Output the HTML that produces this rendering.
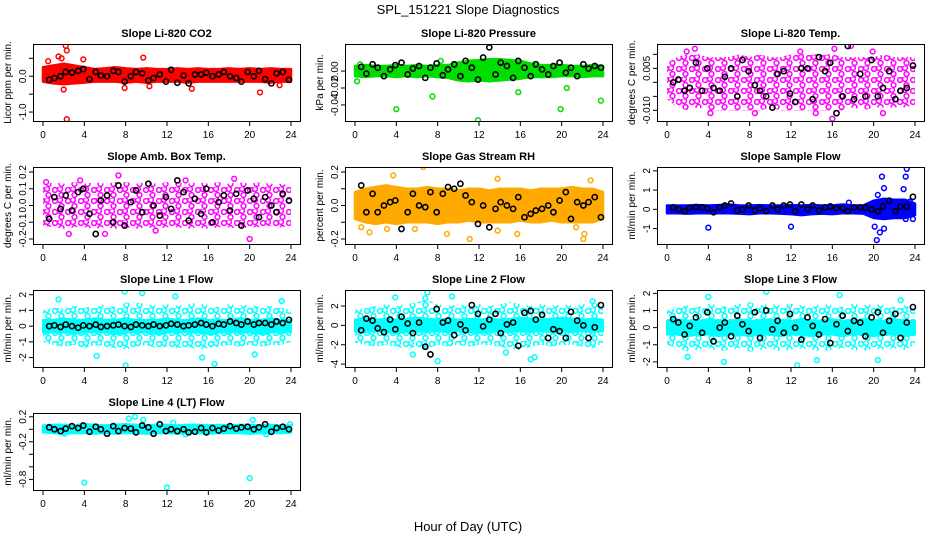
<!DOCTYPE html>
<html><head><meta charset="utf-8">
<style>
html,body{margin:0;padding:0;background:#fff;}
svg{display:block;font-family:"Liberation Sans",Arial,sans-serif;}
</style></head>
<body>
<svg id="chart" width="936" height="540" viewBox="0 0 936 540" xmlns="http://www.w3.org/2000/svg">
<text x="468" y="14" font-size="13" text-anchor="middle">SPL_151221  Slope Diagnostics</text>
<text x="468" y="531" font-size="13" text-anchor="middle">Hour of Day (UTC)</text>
<defs id="defs"></defs>
</svg>
<script>
const bandHours = [0,1,2,3,4,5,6,7,8,9,10,11,12,13,14,15,16,17,18,19,20,21,22,23,24];
const blackHours = [0.6,1.1,1.7,2.2,2.8,3.4,3.9,4.5,5.1,5.6,6.2,6.8,7.3,7.9,8.5,9.0,9.6,10.2,10.7,11.3,11.9,12.4,13.0,13.6,14.1,14.7,15.3,15.8,16.4,17.0,17.5,18.1,18.7,19.2,19.8,20.4,20.9,21.5,22.1,22.6,23.2,23.8];
const xTicks = [0,4,8,12,16,20,24];

const titles = ["Slope Li-820 CO2","Slope Li-820 Pressure","Slope Li-820 Temp.","Slope Amb. Box Temp.","Slope Gas Stream RH","Slope Sample Flow","Slope Line 1 Flow","Slope Line 2 Flow","Slope Line 3 Flow","Slope Line 4 (LT) Flow"];
const yTitles = ["Licor ppm per min.","kPa per min.","degrees C per min.","degrees C per min.","percent per min.","ml/min per min.","ml/min per min.","ml/min per min.","ml/min per min.","ml/min per min."];
const colors = ["#ff0000","#00dd00","#ff00ff","#ff00ff","#ffaa00","#0000ff","#00ffff","#00ffff","#00ffff","#00ffff"];
const yMin = [-1.25,-0.059,-0.0138,-0.23,-0.23,-1.8,-2.6,-4.3,-2.3,-0.97];
const yMax = [0.9,0.032,0.0137,0.23,0.23,2.2,2.3,3.66,2.2,0.26];

const yTicks1=[0.5,0,-0.5,-1], yLab1=["","0.0","","-1.0"];
const yTicks2=[0,-0.02,-0.04], yLab2=["0.00","-0.02","-0.04"];
const yTicks3=[0.01,0.005,0,-0.005,-0.01], yLab3=["","0.005","","","-0.010"];
const yTicks4=[0.2,0.1,0,-0.1,-0.2], yLab4=["0.2","0.1","0.0","-0.1","-0.2"];
const yTicks5=[0.2,0.1,0,-0.1,-0.2], yLab5=["0.2","","0.0","","-0.2"];
const yTicks6=[-1,0,1,2], yLab6=["-1","0","1","2"];
const yTicks7=[-2,-1,0,1,2], yLab7=["-2","-1","0","1","2"];
const yTicks8=[-4,-2,0,2], yLab8=["-4","-2","0","2"];
const yTicks9=[-2,-1,0,1,2], yLab9=["-2","-1","0","1","2"];
const yTicks10=[0.2,0,-0.2,-0.4,-0.6,-0.8], yLab10=["0.2","","-0.2","","","-0.8"];

const bandU1=[.25,.3,.35,.3,.25,.2,.22,.25,.22,.2,.22,.2,.2,.22,.2,.22,.2,.2,.22,.2,.22,.2,.22,.2,.2];
const bandL1=[-.15,-.2,-.22,-.2,-.18,-.15,-.15,-.15,-.18,-.15,-.18,-.15,-.15,-.15,-.18,-.15,-.15,-.15,-.15,-.15,-.15,-.15,-.18,-.15,-.15];
const bandU2=[.006,.007,.006,.006,.007,.006,.007,.006,.007,.007,.01,.012,.013,.014,.014,.013,.012,.009,.007,.007,.007,.006,.006,.007,.006];
const bandL2=[-.006,-.007,-.006,-.006,-.007,-.006,-.007,-.006,-.007,-.008,-.011,-.012,-.011,-.012,-.011,-.01,-.009,-.007,-.007,-.007,-.006,-.006,-.007,-.006,-.006];
const bandU3=[.007,.009,.010,.010,.009,.009,.009,.010,.009,.010,.009,.009,.010,.010,.010,.010,.010,.009,.009,.009,.009,.010,.009,.009,.009];
const bandL3=[-.006,-.009,-.010,-.009,-.010,-.010,-.010,-.010,-.010,-.010,-.009,-.010,-.010,-.010,-.010,-.010,-.010,-.010,-.009,-.010,-.009,-.009,-.009,-.009,-.008];
const bandU4=[.12,.14,.13,.14,.13,.14,.13,.14,.14,.13,.14,.13,.14,.14,.13,.14,.13,.14,.13,.14,.13,.14,.13,.13,.12];
const bandL4=[-.12,-.13,-.14,-.13,-.13,-.14,-.13,-.14,-.13,-.14,-.13,-.14,-.13,-.13,-.14,-.13,-.14,-.13,-.13,-.14,-.13,-.13,-.12,-.13,-.12];
const bandU5=[.08,.1,.11,.12,.11,.1,.1,.11,.1,.1,.09,.1,.1,.09,.1,.1,.1,.09,.1,.1,.1,.11,.1,.1,.08];
const bandL5=[-.08,-.1,-.11,-.1,-.11,-.1,-.1,-.1,-.11,-.1,-.1,-.09,-.1,-.1,-.1,-.1,-.09,-.1,-.1,-.09,-.1,-.1,-.1,-.1,-.08];
const bandU6=[.2,.2,.2,.22,.2,.22,.25,.2,.2,.22,.2,.2,.22,.2,.22,.2,.2,.25,.2,.2,.45,.55,.5,.5,.3];
const bandL6=[-.2,-.2,-.22,-.2,-.2,-.2,-.2,-.22,-.25,-.2,-.2,-.22,-.25,-.3,-.25,-.22,-.25,-.2,-.2,-.22,-.45,-.5,-.45,-.45,-.3];
const bandU7=[1.0,1.2,1.1,1.3,1.2,1.2,1.4,1.2,1.5,1.5,1.4,1.3,1.4,1.3,1.4,1.5,1.3,1.2,1.4,1.3,1.4,1.2,1.3,1.2,1.0];
const bandL7=[-1.0,-1.2,-1.3,-1.2,-1.4,-1.2,-1.3,-1.4,-1.5,-1.3,-1.2,-1.4,-1.3,-1.4,-1.3,-1.5,-1.4,-1.3,-1.2,-1.3,-1.2,-1.3,-1.2,-1.2,-1.0];
const bandU8=[1.6,1.8,2.0,2.2,2.0,2.2,2.4,2.6,2.2,2.0,2.2,2.0,2.2,2.0,2.2,2.4,2.2,2.0,2.2,2.0,2.2,2.0,2.2,2.4,2.0];
const bandL8=[-1.8,-2.0,-2.2,-2.0,-2.2,-2.4,-2.2,-2.4,-2.0,-2.2,-2.0,-2.2,-2.0,-2.0,-2.2,-2.4,-2.6,-2.2,-2.0,-2.2,-2.0,-2.0,-2.2,-2.4,-1.8];
const bandU9=[1.0,1.2,1.3,1.2,1.4,1.3,1.2,1.4,1.5,1.3,1.4,1.3,1.4,1.3,1.2,1.4,1.3,1.2,1.4,1.3,1.4,1.3,1.2,1.3,1.1];
const bandL9=[-1.0,-1.2,-1.4,-1.3,-1.2,-1.4,-1.3,-1.2,-1.4,-1.3,-1.2,-1.4,-1.3,-1.2,-1.3,-1.4,-1.3,-1.2,-1.3,-1.4,-1.2,-1.3,-1.2,-1.3,-1.0];
const bandU10=[.06,.07,.07,.06,.08,.07,.06,.07,.08,.07,.06,.07,.07,.06,.07,.07,.06,.07,.06,.07,.07,.06,.07,.06,.06];
const bandL10=[-.05,-.06,-.07,-.06,-.06,-.07,-.06,-.07,-.06,-.06,-.07,-.06,-.06,-.07,-.06,-.06,-.07,-.06,-.06,-.06,-.07,-.06,-.06,-.06,-.05];

const coreU7=[.4,.4,.5,.4,.4,.5,.4,.4,.5,.4,.4,.4,.5,.4,.4,.5,.4,.4,.4,.5,.4,.4,.5,.4,.4];
const coreL7=[-.4,-.4,-.4,-.5,-.4,-.4,-.4,-.5,-.4,-.4,-.4,-.5,-.4,-.4,-.4,-.4,-.5,-.4,-.4,-.4,-.4,-.5,-.4,-.4,-.4];
const coreU8=[.6,.7,.6,.7,.6,.7,.8,.7,.6,.7,.6,.7,.6,.7,.6,.7,.8,.7,.6,.7,.8,.7,.6,.7,.6];
const coreL8=[-.6,-.7,-.6,-.7,-.8,-.7,-.6,-.7,-.6,-.7,-.6,-.7,-.8,-.7,-.6,-.7,-.6,-.7,-.6,-.7,-.6,-.7,-.6,-.7,-.6];
const coreU9=[.4,.5,.4,.4,.5,.4,.4,.5,.4,.4,.5,.4,.4,.5,.4,.4,.5,.4,.4,.5,.4,.4,.5,.4,.4];
const coreL9=[-.4,-.4,-.5,-.4,-.4,-.5,-.4,-.4,-.5,-.4,-.4,-.5,-.4,-.4,-.5,-.4,-.4,-.5,-.4,-.4,-.5,-.4,-.4,-.5,-.4];

const ptX1=[0.5,1.5,1.8,2.0,2.2,2.3,2.3,3.9,7.9,9.7,10.3,14.4,21.0,22.9], ptY1=[0.42,0.55,0.5,-0.37,0.85,0.72,-1.2,0.47,-0.33,0.52,-0.28,-0.35,-0.45,-0.25];
const ptX2=[0.2,0.5,4.0,7.5,8.3,11.9,15.8,19.9,20.5,23.8], ptY2=[-0.012,0.008,-0.045,-0.03,0.012,-0.058,-0.025,-0.045,-0.02,-0.035];
const ptX3=[1.9,2.7,12.9,16.2,17.8,19.9,14.4,16.0,20.9,4.2,8.5], ptY3=[0.011,0.012,0.011,0.012,0.013,0.011,-0.011,-0.013,-0.011,-0.011,-0.011];
const ptX4=[0.3,2.5,6.0,7.3,10.9,20.0,18.5,3.6,13.8], ptY4=[0.14,-0.17,-0.17,0.18,-0.15,-0.2,0.16,0.15,0.15];
const ptX5=[3.7,6.6,13.8,22.8,0.6,1.4,3.1,5.8,8.9,11.1,13.8,15.7,21.4,22.1,22.2], ptY5=[0.18,0.23,0.16,0.15,-0.13,-0.16,-0.14,-0.14,-0.17,-0.2,-0.15,-0.17,-0.13,-0.2,-0.17];
const ptX6=[4,12,20.1,20.3,20.4,20.6,20.8,21,21,22.9,23.1,23.2,23.1,23.8,17.6,23.5], ptY6=[-0.95,-0.9,-0.9,-1.6,0.75,-1.2,1.7,1.1,-1,1.05,1.7,2.1,-0.5,-0.5,0.35,0.4];
const ptX7=[7.9,9.6,8.0,15.4,16.6,1.5,5.2,12.8,20.5,23.1], ptY7=[2.2,2.1,-2.5,-2.0,-2.4,1.7,-1.9,1.9,-1.8,1.6];
const ptX8=[7.0,8.0,5.6,17.0,17.4,6.8,9.4,14.6,3.9,23.0], ptY8=[3.4,-3.7,-3.0,-3.5,-3.3,2.8,3.0,-2.8,2.9,2.5];
const ptX9=[12.6,4.0,9.6,16.7,20.4,2.0,22.6,5.5,14.5], ptY9=[-2.2,1.8,2.1,1.9,-1.9,-1.7,1.6,-2.0,-1.9];
const ptX10=[4,12,20,8.3,8.9,9.7,20.3,12.6,23.9,2.1,13.8,21.6], ptY10=[-0.85,-0.93,-0.78,0.17,0.2,0.15,0.15,0.1,0.08,-0.07,-0.08,-0.08];

const blkY1=[-0.1,-0.05,0,0.12,0.1,0.15,0.2,-0.08,0.12,0.02,0,0.15,0.12,-0.15,0,0.12,0.08,-0.12,-0.05,0.05,-0.15,0.18,-0.18,0.02,-0.2,0.05,0.05,0.1,0,0.05,0.12,0,-0.05,-0.15,0.12,0,0.15,-0.08,-0.2,0.08,0.12,-0.1];
const blkY2=[0.005,-0.003,0.008,0.004,-0.006,0.002,0.007,0.01,-0.004,0.003,0.006,-0.008,0.004,0.009,-0.005,0.002,0.008,-0.006,0.012,0.004,-0.01,0.016,0.028,-0.004,0.01,0.006,-0.008,0.012,0.004,-0.006,0.008,0.002,-0.004,0.006,0.01,-0.002,0.004,-0.006,0.008,0.003,0.006,0.004];
const blkY3=[0.0,0.001,-0.003,-0.002,0.007,-0.003,0.005,-0.002,-0.003,0.002,0.005,-0.005,0.008,0.004,-0.001,-0.003,-0.005,-0.009,0.003,0.004,-0.004,-0.007,0.005,0.005,-0.006,0.009,0.004,0.007,-0.011,-0.005,0.013,-0.006,0.003,-0.005,0.008,-0.005,-0.002,0.004,-0.006,-0.003,-0.002,0.006];
const blkY4=[-0.08,0.05,-0.02,0.06,-0.03,0.08,0.1,-0.05,-0.17,0.03,0.06,-0.1,0.12,-0.12,0.02,0.09,-0.04,0.13,0.0,-0.06,0.05,-0.02,0.15,0.08,-0.09,0.04,-0.05,0.1,-0.1,0.02,0.06,-0.03,0.07,-0.12,0.09,0.04,-0.07,0.05,0.0,-0.04,0.07,0.03];
const blkY5=[0.12,-0.04,0.07,-0.04,0.0,0.02,0.03,-0.14,-0.04,0.07,0.0,-0.01,0.08,-0.04,0.07,0.11,0.1,0.13,0.06,0.02,-0.11,0.0,-0.13,-0.02,0.02,0.0,-0.02,0.05,-0.07,-0.05,-0.03,-0.02,0.0,-0.04,0.03,0.08,-0.08,0.02,0.0,0.02,0.05,-0.07];
const blkY6=[0.1,0.0,-0.1,0.08,0.12,0.1,0.05,-0.15,0.1,0.2,0.3,-0.05,0.0,0.2,-0.05,0.05,-0.1,0.2,0.0,0.2,0.25,-0.1,0.25,0.0,0.2,-0.05,0.1,0.15,0.05,0.05,-0.1,0.1,0.1,0.1,0.0,-0.1,0.15,0.45,-0.1,0.15,0.15,0.65];
const blkY7=[0.0,0.05,-0.05,0.1,0.0,-0.1,0.05,0.0,0.1,-0.05,0.0,0.05,0.1,0.0,-0.05,0.1,0.05,0.0,0.1,0.0,0.05,0.15,0.1,0.0,0.05,0.1,0.2,0.1,0.0,0.15,0.1,0.3,0.2,0.1,0.3,0.1,0.2,0.2,0.1,0.3,0.2,0.4];
const blkY8=[-0.5,0.7,0.5,-0.3,-0.7,0.6,-0.4,0.9,0.2,-0.8,0.3,-2.2,-3.0,1.7,0.3,0.5,-1.0,0.1,-0.5,2.1,1.2,-0.1,0.6,1.2,-0.8,0.1,0.3,-2.1,1.3,1.5,0.6,1.1,-1.3,-0.4,-0.6,-1.3,1.4,0.5,0.0,-1.3,-0.2,2.1];
const blkY9=[0.5,0.3,-0.4,0.1,0.6,-0.3,0.9,-0.8,0.0,0.3,-0.5,0.7,0.2,-0.2,0.9,-0.6,1.0,-0.1,0.4,-0.3,0.8,0.0,-0.7,0.6,0.1,-0.4,0.5,-0.9,0.2,0.7,-0.2,0.4,0.3,-0.5,0.6,0.9,-0.3,0.4,0.8,-0.6,0.3,1.2];
const blkY10=[0.03,0.0,-0.03,0.01,0.05,0.02,0.06,-0.04,0.04,0.0,-0.07,0.05,-0.03,0.02,0.01,-0.05,0.06,0.03,-0.07,0.08,-0.03,0.0,-0.03,0.0,-0.05,-0.04,0.02,-0.05,0.02,-0.02,0.01,0.05,0.01,0.03,0.04,0.0,0.03,0.08,-0.04,0.02,0.04,0.0];

const yTicksAll=[yTicks1,yTicks2,yTicks3,yTicks4,yTicks5,yTicks6,yTicks7,yTicks8,yTicks9,yTicks10];
const yLabAll=[yLab1,yLab2,yLab3,yLab4,yLab5,yLab6,yLab7,yLab8,yLab9,yLab10];
const bandUAll=[bandU1,bandU2,bandU3,bandU4,bandU5,bandU6,bandU7,bandU8,bandU9,bandU10];
const bandLAll=[bandL1,bandL2,bandL3,bandL4,bandL5,bandL6,bandL7,bandL8,bandL9,bandL10];
const coreUAll=[null,null,null,null,null,null,coreU7,coreU8,coreU9,null];
const coreLAll=[null,null,null,null,null,null,coreL7,coreL8,coreL9,null];
const ptXAll=[ptX1,ptX2,ptX3,ptX4,ptX5,ptX6,ptX7,ptX8,ptX9,ptX10];
const ptYAll=[ptY1,ptY2,ptY3,ptY4,ptY5,ptY6,ptY7,ptY8,ptY9,ptY10];
const blkAll=[blkY1,blkY2,blkY3,blkY4,blkY5,blkY6,blkY7,blkY8,blkY9,blkY10];
const sparse=[false,false,true,true,false,false,true,true,true,false];

const NS="http://www.w3.org/2000/svg";
const svg=document.getElementById('chart');
const defs=document.getElementById('defs');
function mk(tag,attrs,parent){const e=document.createElementNS(NS,tag);for(const k in attrs)e.setAttribute(k,attrs[k]);(parent||svg).appendChild(e);return e;}

const colLeft=[33,345,657], rowTop=[44,167,290,413], W=267, H=77;

for(let p=0;p<10;p++){
  const L=colLeft[p%3], T=rowTop[Math.floor(p/3)];
  const g=mk('g',{});
  
  
  const xs=h=>L+10+h*(248/24);
  const ys=v=>T+H-(v-yMin[p])/(yMax[p]-yMin[p])*H;
  const col=colors[p];
  const cp=mk('clipPath',{id:'clip'+p},defs); mk('rect',{x:L,y:T,width:W,height:H},cp);
  if(sparse[p]){
    const pat=mk('pattern',{id:'pat'+p,patternUnits:'userSpaceOnUse',width:13,height:11},defs);
    mk('circle',{cx:3,cy:3,r:2.4,fill:'none',stroke:col,'stroke-width':1.5},pat);
    mk('circle',{cx:9.5,cy:8,r:2.4,fill:'none',stroke:col,'stroke-width':1.5},pat);
    mk('circle',{cx:8,cy:2,r:2.4,fill:'none',stroke:col,'stroke-width':1.5},pat);
  }
  const data=mk('g',{'clip-path':'url(#clip'+p+')'},g);
  const U=bandUAll[p], Lo=bandLAll[p];
  let pts=bandHours.map((h,i)=>xs(h)+','+ys(U[i]));
  pts=pts.concat(bandHours.slice().reverse().map((h,i)=>xs(h)+','+ys(Lo[bandHours.length-1-i])));
  const band=mk('polygon',{points:pts.join(' '),fill:sparse[p]?'url(#pat'+p+')':col,stroke:sparse[p]?'none':col,'stroke-width':2.5,'stroke-linejoin':'round'},data);
  
  
  if(coreUAll[p]){
    const cu=coreUAll[p], cl=coreLAll[p];
    let cpts=bandHours.map((h,i)=>xs(h)+','+ys(cu[i]));
    cpts=cpts.concat(bandHours.slice().reverse().map((h,i)=>xs(h)+','+ys(cl[bandHours.length-1-i])));
    const core=mk('polygon',{points:cpts.join(' '),fill:col,stroke:col,'stroke-width':2},data);
    
    
  }
  ptXAll[p].forEach((h,i)=>{
    const c=mk('circle',{cx:xs(h),cy:ys(ptYAll[p][i]),r:2.4,fill:'none',stroke:col,'stroke-width':1.5},data);
    
    
  });
  const bk=blkAll[p];
  for(let i=0;i<Math.min(bk.length,blackHours.length);i++){
    const c=mk('circle',{cx:xs(blackHours[i]),cy:ys(bk[i]),r:2.6,fill:'none',stroke:'#000','stroke-width':1.6},data);
    
    
  }
  const box=mk('rect',{x:L+0.5,y:T+0.5,width:W,height:H,fill:'none',stroke:'#000','stroke-width':1},g);
  
  
  xTicks.forEach(t=>{
    const x=xs(t);
    mk('line',{x1:x,x2:x,y1:T+H+1,y2:T+H+5,stroke:'#000','stroke-width':1},g);
    const tx=mk('text',{x:x,y:T+H+17,'font-size':10,'text-anchor':'middle'},g);
    tx.textContent=t;
    
    
  });
  yTicksAll[p].forEach((t,i)=>{
    const y=ys(t);
    mk('line',{x1:L-4,x2:L,y1:y,y2:y,stroke:'#000','stroke-width':1},g);
    const lab=yLabAll[p][i];
    if(lab){
      const tx=mk('text',{x:0,y:0,'font-size':10,'text-anchor':'middle',transform:'translate('+(L-7)+','+y+') rotate(-90)'},g);
      tx.textContent=lab;
      
      
    }
  });
  const yt=mk('text',{x:0,y:0,'font-size':10,'text-anchor':'middle',transform:'translate('+(L-22)+','+(T+H/2)+') rotate(-90)'},g);
  yt.textContent=yTitles[p];
  
  
  const tt=mk('text',{x:L+W/2,y:T-7,'font-size':11,'font-weight':'bold','text-anchor':'middle'},g);
  tt.textContent=titles[p];
  
  
}
</script>
</body></html>
